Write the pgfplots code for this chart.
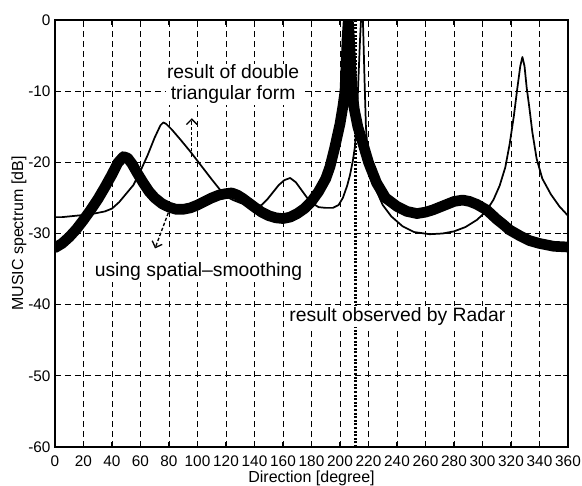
\documentclass[border=0pt]{standalone}
\usepackage{pgfplots}
\pgfplotsset{compat=1.18}
\usepackage{fontspec}
\setmainfont{Liberation Sans}
\usetikzlibrary{arrows.meta}
\begin{document}
\begin{tikzpicture}
\begin{axis}[name=ax, scale only axis, width=384.75pt, height=320.25pt,
 xmin=0, xmax=360, ymin=-60, ymax=0,
 xtick={0,20,...,360}, ytick={-60,-50,...,0},
 grid=major, major grid style={black, line width=0.7pt, dash pattern=on 4.5pt off 3pt},
 axis line style={line width=1.1pt}, tick style={black, line width=0.8pt},
 tick align=inside, major tick length=4pt,
 /pgf/number format/assume math mode=true,
 tick label style={font=\fontsize{11.5}{12}\selectfont},
 yticklabel style={anchor=east, inner sep=0pt, xshift=-3.2pt},
 xticklabel style={anchor=north, inner sep=0pt, yshift=-6.5pt},
 xlabel={Direction [degree]}, ylabel={MUSIC spectrum [dB]},
 label style={font=\fontsize{12}{14}\selectfont},
 xlabel style={at={(axis description cs:0.5,-0.0735)}, anchor=center, inner sep=0pt},
 ylabel style={at={(axis description cs:-0.0702,0.5)}, anchor=center, inner sep=0pt},
]
% result of double triangular form (thin)
\addplot[black, line width=1.3pt, line join=round] coordinates {
(0,-27.7) (5,-27.7) (10,-27.6) (15,-27.5) (20,-27.4) (25,-27.3) (30,-27.1) (35,-26.9)
(40,-26.5) (45,-25.6) (50,-24.4) (55,-23.2) (60,-21.2) (65,-19.0) (70,-16.5) (74,-14.8)
(76,-14.4) (78,-14.6) (82,-15.4) (88,-16.8) (95,-18.5) (100,-19.8) (105,-21.1) (110,-22.4)
(116,-23.9) (120,-24.8) (125,-25.3) (130,-25.7) (135,-26.0) (140,-26.2) (145,-26.0)
(149,-25.2) (153,-24.2) (157,-23.2) (161,-22.5) (165,-22.2) (169,-22.8) (173,-23.9)
(177,-25.0) (181,-25.8) (185,-26.3) (190,-26.4) (195,-26.4) (199,-26.0) (202,-25.0)
(205,-23.3) (207,-21.8) (209,-19.8) (210.5,-17.8) (212,-13) (213,-8) (214,-3) (215,1)
(215.8,2) (216.5,-3) (217.3,-9) (218.2,-15) (219.5,-18.8) (222,-21.6) (226,-24.2)
(230,-26.0) (236,-27.6) (244,-29.0) (252,-29.8) (263,-30.1) (272,-30.0) (280,-29.7)
(288,-29.1) (296,-28.1) (302,-27.0) (307.6,-25.3) (312,-23.3) (316,-20.7) (319,-17.5)
(322,-13.5) (324.5,-9.5) (326.5,-6.5) (328,-5.2) (329.5,-6.5) (331,-9.5) (333,-12.5)
(335,-15.8) (338,-19.5) (342,-22.3) (348,-24.5) (354,-26.2) (360,-27.5)
};
% using spatial-smoothing (thick)
\addplot[black, line width=8pt, line join=round, line cap=round] coordinates {
(0,-32.0) (5,-31.4) (10,-30.5) (15,-29.4) (20,-28.1) (25,-26.7) (30,-25.2) (35,-23.5)
(40,-21.7) (44,-20.1) (48,-19.2) (51,-19.4) (54,-20.2) (58,-21.6) (62,-22.9) (66,-24.1)
(70,-25.0) (75,-25.8) (80,-26.3) (85,-26.6) (90,-26.6) (95,-26.4) (100,-26.0) (105,-25.5)
(110,-25.0) (115,-24.6) (120,-24.4) (124,-24.3) (128,-24.6) (132,-25.1) (136,-25.7)
(140,-26.3) (145,-27.0) (150,-27.5) (155,-27.8) (160,-27.9) (165,-27.7) (170,-27.2)
(175,-26.5) (180,-25.5) (185,-24.1) (190,-22.3) (193,-20.6) (196,-18.2) (198,-16.4)
(200,-14.6) (202,-12.2) (203.5,-10) (204.3,-6) (205,-2.5) (205.8,0) (206.6,-2.5)
(207.5,-6) (208.5,-10) (210,-12.5) (212.5,-15) (216,-17.3) (220,-20.0) (225.7,-22.9)
(232,-25.0) (240,-26.2) (247,-26.9) (254,-27.2) (260,-27.0) (265,-26.7) (270,-26.3)
(275,-25.9) (280,-25.5) (286,-25.3) (291,-25.5) (296,-25.9) (303,-26.7) (310,-28.0)
(315,-28.8) (319,-29.5) (326,-30.3) (333,-31.0) (340,-31.4) (350,-31.8) (360,-31.9)
};
% result observed by Radar
\addplot[black, line width=2pt, dash pattern=on 1.5pt off 1.2pt] coordinates {(211,-60) (211,0)};
\draw[black, line width=1pt, dash pattern=on 2.5pt off 1.5pt, -{Straight Barb[length=4pt,width=8pt]}]
  (axis cs:96,-19.2) -- (axis cs:96,-13.8);
\draw[black, line width=1pt, dash pattern=on 2.5pt off 1.5pt, -{Straight Barb[length=4pt,width=8pt]}]
  (axis cs:79.5,-27.1) -- (axis cs:70.2,-32.1);
\node[fill=white, inner sep=1pt, align=center, font=\fontsize{14.5}{15.75}\selectfont]
  at (axis cs:125,-9.06) {result of double\\triangular form};
\node[fill=white, inner sep=1pt, font=\fontsize{14.5}{16}\selectfont]
  at (axis cs:100.7,-35.35) {using spatial--smoothing};
\node[fill=white, inner sep=1pt, font=\fontsize{14.5}{16}\selectfont]
  at (axis cs:240.3,-41.7) {result observed by Radar};
\end{axis}
\pgfresetboundingbox
\path[use as bounding box] ([xshift=-41.25pt,yshift=-29.25pt]ax.south west) rectangle ([xshift=10.5pt,yshift=15pt]ax.north east);
\end{tikzpicture}
\end{document}
